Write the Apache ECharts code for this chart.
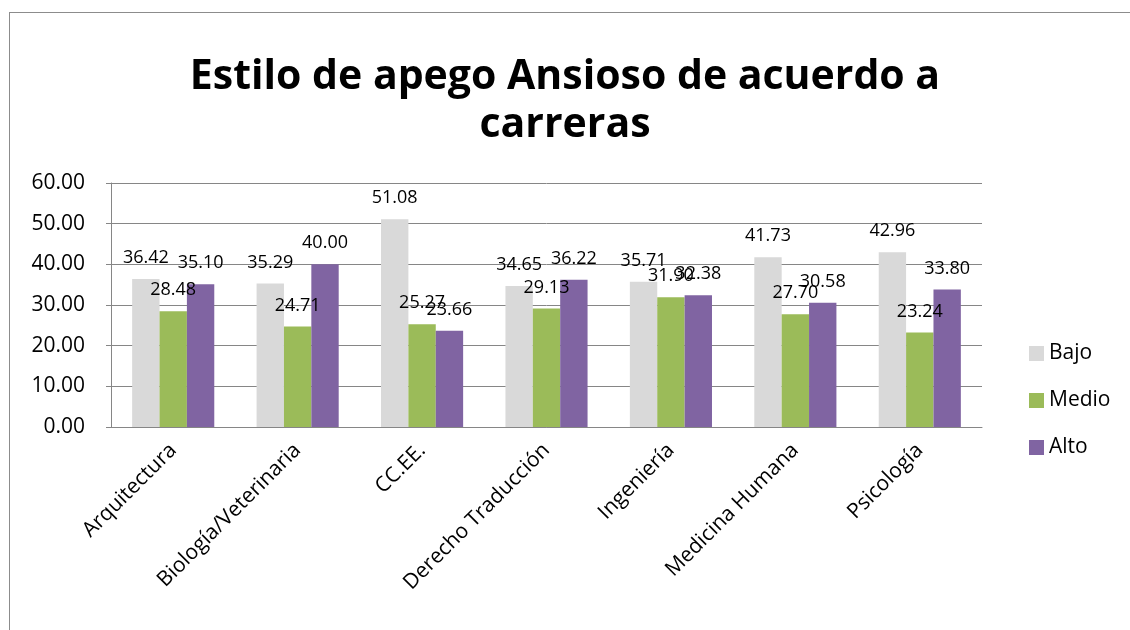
<!DOCTYPE html>
<html>
<head>
<meta charset="utf-8">
<script src="https://cdn.jsdelivr.net/npm/echarts@6/dist/echarts.min.js"></script>
<style>
  html, body { margin: 0; padding: 0; background: #fff; }
  #frame { position: absolute; left: 9px; top: 12px; width: 1140px; height: 640px; border: 1px solid #8c8c8c; }
  #chart { position: absolute; left: 0; top: 0; width: 1130px; height: 630px; }
</style>
</head>
<body>
<div id="frame"></div>
<div id="chart"></div>
<script>
const carreras = ['Arquitectura', 'Biología/Veterinaria', 'CC.EE.', 'Derecho Traducción', 'Ingeniería', 'Medicina Humana', 'Psicología'];
const bajo = [36.42, 35.29, 51.08, 34.65, 35.71, 41.73, 42.96];
const medio = [28.48, 24.71, 25.27, 29.13, 31.90, 27.70, 23.24];
const alto = [35.10, 40.00, 23.66, 36.22, 32.38, 30.58, 33.80];
const yTicks = [0, 10, 20, 30, 40, 50, 60];

const font = '"Open Sans", "Noto Sans", sans-serif';

const chart = echarts.init(document.getElementById('chart'));

function serie(name, data, color) {
  return {
    name: name,
    type: 'bar',
    data: data,
    barGap: '0%',
    barCategoryGap: '34%',
    itemStyle: { color: color },
    label: {
      show: true,
      position: 'top',
      distance: 12,
      color: '#000',
      fontFamily: font,
      fontSize: 18,
      formatter: p => p.value.toFixed(2)
    }
  };
}

chart.setOption({
  animation: false,
  title: {
    text: 'Estilo de apego Ansioso de acuerdo a\ncarreras',
    left: 'center',
    top: 48,
    textStyle: { fontFamily: font, fontWeight: 'bold', fontSize: 41, color: '#000', lineHeight: 48 }
  },
  legend: {
    orient: 'vertical',
    left: 1024,
    top: 338,
    itemWidth: 15,
    itemHeight: 15,
    itemGap: 26,
    icon: 'rect',
    textStyle: { fontFamily: font, fontSize: 21, color: '#000' },
    data: ['Bajo', 'Medio', 'Alto']
  },
  grid: { left: 111, right: 148, top: 183, bottom: 203 },
  xAxis: {
    type: 'category',
    data: carreras,
    axisLine: { lineStyle: { color: '#868686' } },
    axisTick: { show: false },
    axisLabel: { rotate: 45, interval: 0, margin: 20, fontFamily: font, fontSize: 21, color: '#000' }
  },
  yAxis: {
    type: 'value',
    min: yTicks[0],
    max: yTicks[yTicks.length - 1],
    interval: 10,
    axisLine: { show: true, lineStyle: { color: '#868686' } },
    axisTick: { show: true, length: 5, lineStyle: { color: '#868686' } },
    splitLine: { lineStyle: { color: '#868686' } },
    axisLabel: { margin: 26, fontFamily: font, fontSize: 21, color: '#000', formatter: v => v.toFixed(2) }
  },
  series: [
    serie('Bajo', bajo, '#d9d9d9'),
    serie('Medio', medio, '#9bbb59'),
    serie('Alto', alto, '#8064a2')
  ]
});
</script>
</body>
</html>
